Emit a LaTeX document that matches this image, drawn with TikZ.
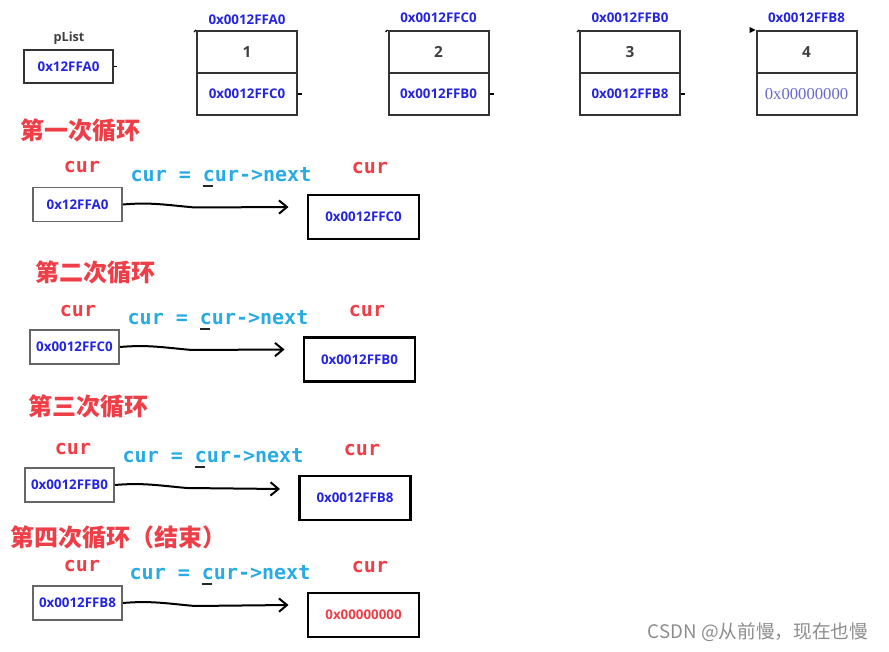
\documentclass[tikz,border=0pt]{standalone}
\usepackage{fontspec}
\setmainfont{Open Sans}
\newfontfamily\cjk{Noto Sans CJK SC}
\newfontfamily\codefont{DejaVu Sans Mono}
\newfontfamily\serifnum{Liberation Serif}
\usetikzlibrary{arrows.meta,positioning,calc}

\definecolor{hexblue}{RGB}{35,35,225}
\definecolor{nullblue}{RGB}{105,105,205}
\definecolor{curred}{RGB}{238,62,72}
\definecolor{codecyan}{RGB}{40,170,228}

\tikzset{
  hex/.style={text=hexblue,font=\bfseries\fontsize{10}{11}\selectfont,inner sep=0pt},
  cell/.style={draw=black!80,line width=1.5pt,minimum width=75pt,minimum height=31.5pt,inner sep=0pt},
  curbox/.style={draw=black!60,line width=1.4pt,minimum width=66.75pt,minimum height=25.5pt,inner sep=0pt,hex},
  nextbox/.style={draw=black,line width=2.2pt,minimum width=83.25pt,minimum height=33pt,inner sep=0pt,hex},
  heading/.style={text=curred,font=\cjk\bfseries\fontsize{18}{19}\selectfont,inner sep=0pt},
  curlabel/.style={text=curred,font=\codefont\bfseries\fontsize{15}{16}\selectfont,inner sep=0pt},
  code/.style={text=codecyan,font=\codefont\bfseries\fontsize{15}{16}\selectfont,inner sep=0pt},
  curarrow/.style={line width=1.5pt,-{Straight Barb[length=6pt,width=10pt]}},
}
\newcommand{\curnext}{cur = {\color{black!85}\rlap{\rule[-4pt]{0.5em}{1.4pt}}}cur->next}

\begin{document}
\begin{tikzpicture}[x=0.75pt,y=-0.75pt]
  \useasboundingbox (0,0) rectangle (889,652);

  % the list in memory
  \node[text=black!75,font=\bfseries\fontsize{9.5}{10}\selectfont,inner sep=0pt] (plistname) at (69,38) {pList};
  \node[draw=black!80,line width=1.5pt,minimum width=66.75pt,minimum height=24.75pt,inner sep=0pt,hex] (plist) at (68.5,66.5) {0x12FFA0};

  \node[cell,font=\bfseries\fontsize{11.5}{12}\selectfont,text=black!75] (d1) at (247,52) {1};
  \node[cell,hex] (p1) at (247,94) {0x0012FFC0};
  \node[hex,above=4pt of d1] (a1) {0x0012FFA0};

  \node[cell,font=\bfseries\fontsize{11.5}{12}\selectfont,text=black!75] (d2) at (438.5,52) {2};
  \node[cell,hex] (p2) at (438.5,94) {0x0012FFB0};
  \node[hex,above=5.5pt of d2] (a2) {0x0012FFC0};

  \node[cell,font=\bfseries\fontsize{11.5}{12}\selectfont,text=black!75] (d3) at (630,52) {3};
  \node[cell,hex] (p3) at (630,94) {0x0012FFB8};
  \node[hex,above=5.5pt of d3] (a3) {0x0012FFB0};

  \node[cell,font=\bfseries\fontsize{11.5}{12}\selectfont,text=black!75] (d4) at (806.5,52) {4};
  \node[cell,text=nullblue,font=\serifnum\fontsize{12.5}{13}\selectfont] (p4) at (806.5,94) {0x00000000};
  \node[hex,above=5.5pt of d4] (a4) {0x0012FFB8};

  \draw[line width=1pt] (plist.east) -- ++(3,0);
  \draw[line width=1pt] (p1.east) -- ++(4,0);
  \draw[line width=1pt] (p2.east) -- ++(4,0);
  \draw[line width=1pt] (p3.east) -- ++(4,0);
  \draw[line width=1pt] (d1.north west) -- ++(-2,2);
  \draw[line width=1pt] (d2.north west) -- ++(-2,2);
  \draw[line width=1pt] (d3.north west) -- ++(-2,2);
  \fill (d4.north west) -- ++(-6,-3) -- ++(0,6) -- cycle;

  % first loop
  \node[heading] (h1) at (80,130) {第一次循环};
  \node[curlabel] (c1) at (82,167) {cur};
  \node[code] (f1) at (221,177) {\curnext};
  \node[curlabel] (n1) at (370,168) {cur};
  \node[curbox] (l1) at (77.5,204.5) {0x12FFA0};
  \node[nextbox] (r1) at (363.5,217) {0x0012FFC0};
  \coordinate (t1) at ($(r1.west)+(-18,-10)$);
  \draw[curarrow] (l1.east) to[out=5,in=175] ++(72,3) -- (t1);

  % second loop
  \node[heading] (h2) at (96,272) {第二次循环};
  \node[curlabel] (c2) at (78,311) {cur};
  \node[code] (f2) at (218,320) {\curnext};
  \node[curlabel] (n2) at (367,311) {cur};
  \node[curbox] (l2) at (74.5,347) {0x0012FFC0};
  \node[nextbox] (r2) at (359.5,359.5) {0x0012FFB0};
  \coordinate (t2) at ($(r2.west)+(-18,-10)$);
  \draw[curarrow] (l2.east) to[out=5,in=175] ++(72,3) -- (t2);

  % third loop
  \node[heading] (h3) at (88,406) {第三次循环};
  \node[curlabel] (c3) at (73,449) {cur};
  \node[code] (f3) at (213,458) {\curnext};
  \node[curlabel] (n3) at (362,450) {cur};
  \node[curbox] (l3) at (69.5,485) {0x0012FFB0};
  \node[nextbox] (r3) at (355,498) {0x0012FFB8};
  \coordinate (t3) at ($(r3.west)+(-18,-9)$);
  \draw[curarrow] (l3.east) to[out=5,in=175] ++(72,3) -- (t3);

  % fourth loop, the end
  \node[heading] (h4) at (119,537) {第四次循环（结束）};
  \node[curlabel] (c4) at (82,566) {cur};
  \node[code] (f4) at (220,575) {\curnext};
  \node[curlabel] (n4) at (370,567) {cur};
  \node[curbox] (l4) at (77.5,603) {0x0012FFB8};
  \node[nextbox,text=curred] (r4) at (363.5,615) {0x00000000};
  \coordinate (t4) at ($(r4.west)+(-18,-10)$);
  \draw[curarrow] (l4.east) to[out=5,in=175] ++(72,3) -- (t4);

  \node[text=black!45,font=\cjk\fontsize{14}{15}\selectfont,inner sep=0pt] (mark) at (758,632) {CSDN @从前慢，现在也慢};
\end{tikzpicture}
\end{document}
